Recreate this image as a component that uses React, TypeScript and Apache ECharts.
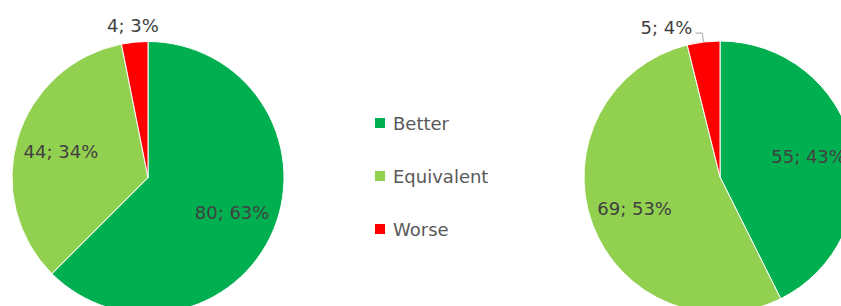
import React, { useEffect, useRef } from "react";
import * as echarts from "echarts";

const categories = ["Better", "Equivalent", "Worse"];
const leftValues = [80, 44, 4];
const rightValues = [55, 69, 5];
const colors = ["#00B050", "#92D050", "#FF0000"];

const FONT = "DejaVu Sans";

function mainSeries(values: number[], center: any[], rightSide: boolean) {
  return {
    type: "pie",
    center,
    radius: [0, 136],
    startAngle: 90,
    clockwise: true,
    avoidLabelOverlap: false,
    percentPrecision: 0,
    silent: true,
    itemStyle: { borderColor: "#ffffff", borderWidth: 1 },
    labelLayout: (p: any) =>
      p.dataIndex === 2 ? (rightSide ? { dy: -6 } : { align: "center" }) : {},
    data: categories.map((name, i) => ({
      name,
      value: values[i],
      itemStyle: { color: colors[i] },
      label:
        i === 2
          ? {
              show: true,
              position: "outside",
              formatter: "{c}; {d}%",
              fontSize: 18,
              fontFamily: FONT,
              color: "#404040",
              distanceToLabelLine: rightSide ? 3 : 0,
            }
          : { show: false },
      labelLine:
        i === 2
          ? rightSide
            ? { show: true, length: 9, length2: 7, lineStyle: { color: "#a6a6a6", width: 1 } }
            : { show: false, length: 17, length2: 0 }
          : { show: false },
    })),
  };
}

function overlaySeries(values: number[], center: any[]) {
  return {
    type: "pie",
    center,
    radius: [40, 136],
    startAngle: 90,
    clockwise: true,
    avoidLabelOverlap: false,
    percentPrecision: 0,
    silent: true,
    legendHoverLink: false,
    itemStyle: { color: "rgba(0,0,0,0)", borderWidth: 0 },
    labelLine: { show: false },
    data: categories.map((name, i) => ({
      name,
      value: values[i],
      label:
        i < 2
          ? {
              show: true,
              position: "inside",
              formatter: "{c}; {d}%",
              fontSize: 18,
              fontFamily: FONT,
              color: "#404040",
            }
          : { show: false },
    })),
  };
}

export default function App() {
  const ref = useRef<HTMLDivElement>(null);
  useEffect(() => {
    if (!ref.current) return;
    const chart = echarts.init(ref.current, null, { renderer: "svg" });
    chart.setOption({
      animation: false,
      backgroundColor: "#ffffff",
      legend: {
        orient: "vertical",
        left: 368,
        top: 108,
        itemWidth: 12,
        itemHeight: 12,
        itemGap: 33,
        icon: "rect",
        selectedMode: false,
        data: categories.map((name, i) => ({ name, itemStyle: { color: colors[i] } })),
        textStyle: {
          fontSize: 18,
          fontFamily: FONT,
          color: "#595959",
          lineHeight: 20,
          padding: [0, 0, 0, 2],
        },
      },
      series: [
        mainSeries(leftValues, [148, 177.5], false),
        mainSeries(rightValues, [720, 177], true),
        overlaySeries(leftValues, [148, 177.5]),
        overlaySeries(rightValues, [720, 177]),
      ],
    });
    return () => chart.dispose();
  }, []);
  return (
    <div
      ref={ref}
      style={{ position: "absolute", left: 0, top: 0, width: 841, height: 306 }}
    />
  );
}
